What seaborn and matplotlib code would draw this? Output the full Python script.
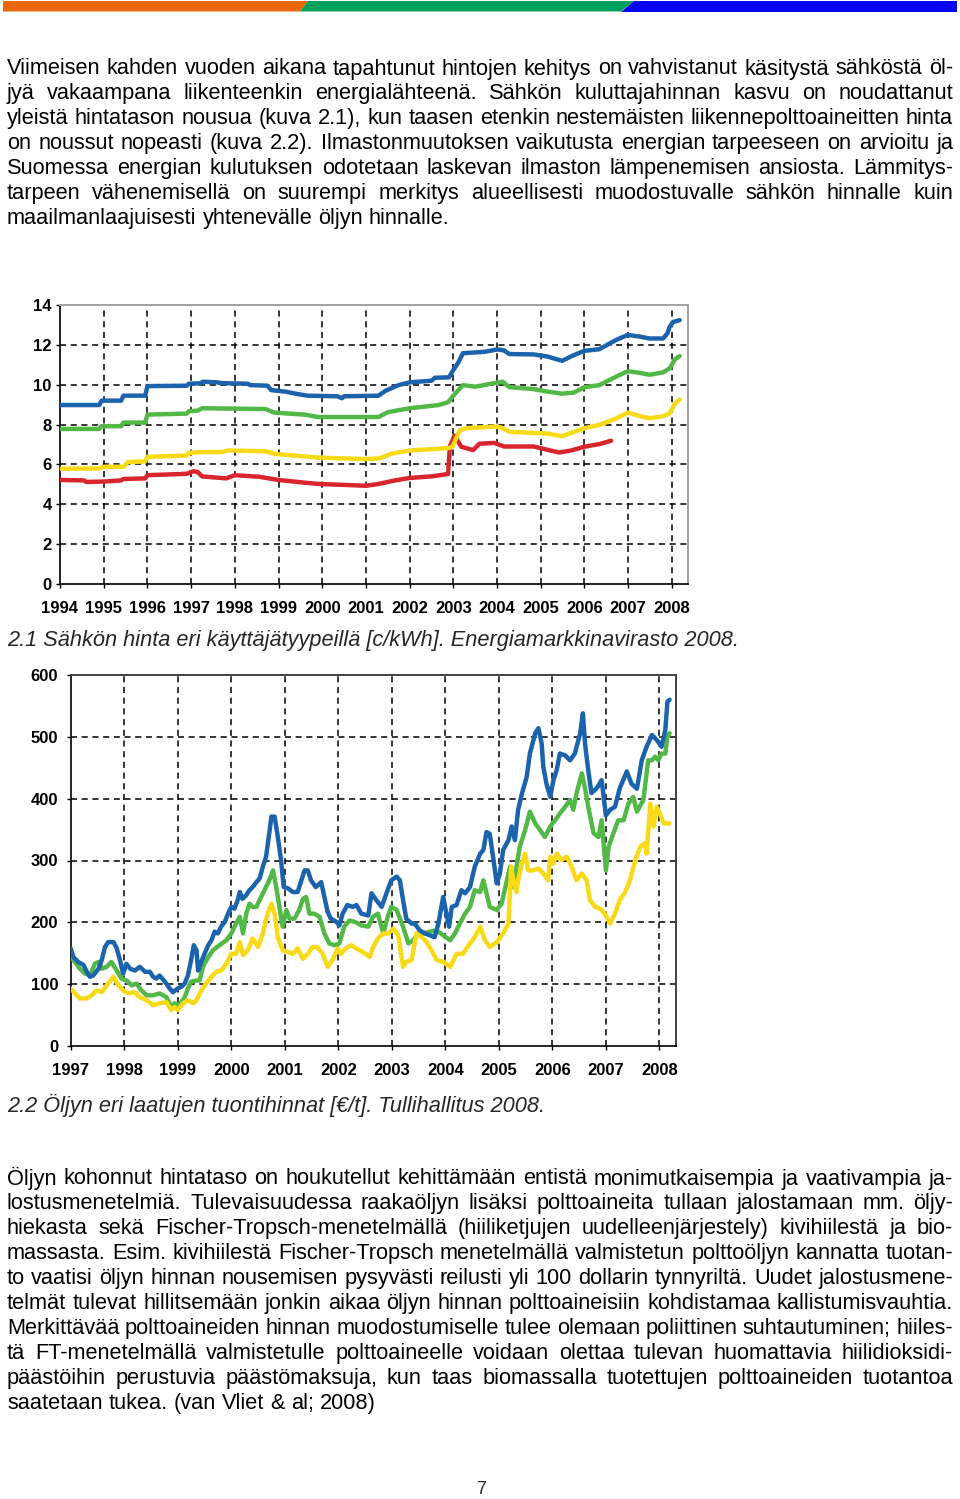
import matplotlib
matplotlib.use("Agg")
import matplotlib.pyplot as plt
import seaborn as sns
from matplotlib.patches import Polygon

sns.set_style("white")
plt.rcParams['font.family'] = ['Liberation Sans', 'DejaVu Sans']

W, H = 960, 1499

# ---------------- Text content ----------------
para1 = [
    "Viimeisen kahden vuoden aikana tapahtunut hintojen kehitys on vahvistanut käsitystä sähköstä öl-",
    "jyä vakaampana liikenteenkin energialähteenä. Sähkön kuluttajahinnan kasvu on noudattanut",
    "yleistä hintatason nousua (kuva 2.1), kun taasen etenkin nestemäisten liikennepolttoaineitten hinta",
    "on noussut nopeasti (kuva 2.2). Ilmastonmuutoksen vaikutusta energian tarpeeseen on arvioitu ja",
    "Suomessa energian kulutuksen odotetaan laskevan ilmaston lämpenemisen ansiosta. Lämmitys-",
    "tarpeen vähenemisellä on suurempi merkitys alueellisesti muodostuvalle sähkön hinnalle kuin",
    "maailmanlaajuisesti yhtenevälle öljyn hinnalle.",
]
caption1 = "2.1 Sähkön hinta eri käyttäjätyypeillä [c/kWh]. Energiamarkkinavirasto 2008."
caption2 = "2.2 Öljyn eri laatujen tuontihinnat [€/t]. Tullihallitus 2008."
para2 = [
    "Öljyn kohonnut hintataso on houkutellut kehittämään entistä monimutkaisempia ja vaativampia ja-",
    "lostusmenetelmiä. Tulevaisuudessa raakaöljyn lisäksi polttoaineita tullaan jalostamaan mm. öljy-",
    "hiekasta sekä Fischer-Tropsch-menetelmällä (hiiliketjujen uudelleenjärjestely) kivihiilestä ja bio-",
    "massasta. Esim. kivihiilestä Fischer-Tropsch menetelmällä valmistetun polttoöljyn kannatta tuotan-",
    "to vaatisi öljyn hinnan nousemisen pysyvästi reilusti yli 100 dollarin tynnyriltä. Uudet jalostusmene-",
    "telmät tulevat hillitsemään jonkin aikaa öljyn hinnan polttoaineisiin kohdistamaa kallistumisvauhtia.",
    "Merkittävää polttoaineiden hinnan muodostumiselle tulee olemaan poliittinen suhtautuminen; hiiles-",
    "tä FT-menetelmällä valmistetulle polttoaineelle voidaan olettaa tulevan huomattavia hiilidioksidi-",
    "päästöihin perustuvia päästömaksuja, kun taas biomassalla tuotettujen polttoaineiden tuotantoa",
    "saatetaan tukea. (van Vliet & al; 2008)",
]
page_number = "7"

# ---------------- Chart 2.1 data (c/kWh) ----------------
el_years = list(range(1994, 2009))
el_yticks = [0, 2, 4, 6, 8, 10, 12, 14]

el_blue_x = [1994.0, 1994.9, 1994.95, 1995.4, 1995.45, 1995.95, 1996.0, 1996.9, 1996.95, 1997.2, 1997.27,
             1997.6, 1997.7, 1998.3, 1998.35, 1998.75, 1998.83, 1999.17, 1999.39, 1999.66, 2000.35, 2000.45,
             2000.5, 2001.29, 2001.45, 2001.75, 2002.0, 2002.5, 2002.58, 2002.9, 2003.0, 2003.11, 2003.22,
             2003.71, 2004.01, 2004.16, 2004.28, 2004.84, 2005.14, 2005.49, 2005.72, 2006.0, 2006.34, 2006.72,
             2006.99, 2007.25, 2007.49, 2007.8, 2007.9, 2007.95, 2008.03, 2008.18]
el_blue = [8.98, 8.98, 9.2, 9.2, 9.45, 9.45, 9.93, 9.95, 10.05, 10.07, 10.15,
           10.12, 10.08, 10.05, 9.98, 9.95, 9.73, 9.65, 9.55, 9.45, 9.42, 9.32,
           9.42, 9.45, 9.7, 9.98, 10.12, 10.2, 10.35, 10.37, 10.74, 11.1, 11.58,
           11.65, 11.77, 11.72, 11.54, 11.52, 11.42, 11.2, 11.45, 11.7, 11.78, 12.24,
           12.5, 12.42, 12.32, 12.32, 12.58, 12.9, 13.15, 13.24]

el_green_x = [1994.0, 1994.9, 1994.95, 1995.4, 1995.45, 1995.95, 1996.0, 1996.9, 1996.95, 1997.15, 1997.25,
              1998.7, 1998.9, 1999.6, 1999.9, 2001.29, 2001.5, 2002.0, 2002.66, 2002.88, 2003.0, 2003.22,
              2003.5, 2003.94, 2004.13, 2004.28, 2004.84, 2005.14, 2005.49, 2005.75, 2006.0, 2006.34, 2006.72,
              2006.99, 2007.25, 2007.49, 2007.8, 2007.95, 2008.07, 2008.18]
el_green = [7.78, 7.78, 7.92, 7.92, 8.1, 8.1, 8.5, 8.55, 8.67, 8.7, 8.82,
            8.78, 8.6, 8.5, 8.38, 8.38, 8.62, 8.82, 8.98, 9.12, 9.45, 9.98,
            9.9, 10.08, 10.15, 9.88, 9.78, 9.66, 9.55, 9.6, 9.87, 9.98, 10.4,
            10.68, 10.6, 10.5, 10.62, 10.82, 11.27, 11.44]

el_yellow_x = [1994.0, 1994.9, 1995.0, 1995.45, 1995.55, 1995.95, 1996.0, 1996.9, 1996.95, 1997.25, 1997.7,
               1997.85, 1998.7, 1998.94, 1999.62, 1999.92, 2000.98, 2001.3, 2001.6, 2002.0, 2002.9, 2002.98,
               2003.15, 2003.3, 2003.94, 2004.1, 2004.28, 2004.84, 2005.14, 2005.49, 2006.0, 2006.34, 2006.72,
               2006.99, 2007.25, 2007.49, 2007.8, 2007.95, 2008.07, 2008.18]
el_yellow = [5.78, 5.8, 5.88, 5.88, 6.12, 6.15, 6.38, 6.45, 6.58, 6.62, 6.62,
             6.7, 6.66, 6.52, 6.4, 6.34, 6.27, 6.3, 6.55, 6.7, 6.82, 6.9,
             7.72, 7.82, 7.9, 7.85, 7.64, 7.58, 7.55, 7.42, 7.82, 7.98, 8.3,
             8.6, 8.43, 8.32, 8.42, 8.56, 9.05, 9.26]

el_red_x = [1994.0, 1994.55, 1994.6, 1995.0, 1995.4, 1995.45, 1995.95, 1996.0, 1996.9, 1997.05, 1997.15,
            1997.25, 1997.8, 1998.0, 1998.56, 1999.0, 1999.62, 1999.92, 2000.53, 2001.0, 2001.29, 2001.67,
            2002.0, 2002.5, 2002.88, 2002.92, 2003.03, 2003.18, 2003.45, 2003.6, 2003.94, 2004.16, 2004.84,
            2005.14, 2005.42, 2005.7, 2006.0, 2006.34, 2006.61]
el_red = [5.22, 5.2, 5.12, 5.14, 5.2, 5.27, 5.3, 5.46, 5.53, 5.66, 5.62,
          5.4, 5.3, 5.46, 5.38, 5.22, 5.08, 5.02, 4.97, 4.93, 5.02, 5.2,
          5.32, 5.4, 5.52, 6.89, 7.45, 6.89, 6.72, 7.04, 7.08, 6.9, 6.9,
          6.74, 6.6, 6.7, 6.89, 7.02, 7.19]

# ---------------- Chart 2.2 data (EUR/t) ----------------
oil_years = list(range(1997, 2009))
oil_yticks = [0, 100, 200, 300, 400, 500, 600]

oil_blue_x = [1997.00, 1997.05, 1997.14, 1997.24, 1997.30, 1997.36, 1997.42, 1997.52, 1997.58, 1997.64, 1997.70,
              1997.80, 1997.86, 1997.92, 1997.98, 1998.04, 1998.11, 1998.20, 1998.29, 1998.39, 1998.48, 1998.54,
              1998.60, 1998.66, 1998.76, 1998.85, 1998.91, 1999.00, 1999.07, 1999.13, 1999.19, 1999.25, 1999.30,
              1999.35, 1999.38, 1999.44, 1999.50, 1999.57, 1999.63, 1999.69, 1999.75, 1999.81, 1999.88, 1999.94,
              2000.00, 2000.06, 2000.12, 2000.16, 2000.21, 2000.28, 2000.34, 2000.40, 2000.47, 2000.53, 2000.59,
              2000.65, 2000.71, 2000.75, 2000.81, 2000.87, 2000.93, 2000.98, 2001.06, 2001.15, 2001.24, 2001.30,
              2001.37, 2001.43, 2001.49, 2001.58, 2001.68, 2001.74, 2001.80, 2001.86, 2001.96, 2002.02, 2002.08,
              2002.17, 2002.27, 2002.34, 2002.43, 2002.56, 2002.62, 2002.71, 2002.81, 2002.90, 2002.99, 2003.09,
              2003.15, 2003.21, 2003.27, 2003.37, 2003.43, 2003.52, 2003.62, 2003.71, 2003.80, 2003.87, 2003.96,
              2004.02, 2004.07, 2004.12, 2004.21, 2004.30, 2004.37, 2004.46, 2004.55, 2004.65, 2004.71, 2004.77,
              2004.83, 2004.90, 2004.96, 2005.02, 2005.08, 2005.18, 2005.24, 2005.30, 2005.36, 2005.43, 2005.52,
              2005.58, 2005.68, 2005.74, 2005.80, 2005.83, 2005.89, 2005.96, 2006.02, 2006.08, 2006.14, 2006.24,
              2006.33, 2006.42, 2006.52, 2006.57, 2006.61, 2006.67, 2006.73, 2006.83, 2006.92, 2007.00, 2007.08,
              2007.17, 2007.26, 2007.39, 2007.48, 2007.58, 2007.67, 2007.76, 2007.86, 2007.95, 2008.04, 2008.11,
              2008.15, 2008.19]
oil_blue = [158, 144, 136, 131, 120, 112, 114, 125, 139, 160, 168,
            168, 158, 139, 117, 133, 125, 122, 128, 120, 120, 112,
            109, 114, 104, 93, 87, 93, 96, 101, 114, 139, 163,
            155, 122, 136, 149, 163, 171, 185, 182, 193, 201, 214,
            225, 222, 236, 249, 238, 244, 252, 257, 265, 271, 290,
            306, 344, 371, 371, 338, 301, 257, 255, 249, 249, 265,
            284, 284, 268, 257, 265, 241, 217, 206, 201, 195, 214,
            228, 225, 228, 214, 211, 247, 236, 225, 247, 268, 274,
            268, 236, 206, 198, 198, 187, 182, 179, 176, 198, 241,
            214, 193, 225, 228, 252, 247, 257, 290, 311, 317, 346,
            343, 301, 263, 279, 317, 333, 355, 333, 382, 408, 435,
            473, 506, 514, 489, 452, 424, 403, 430, 446, 473, 470,
            462, 473, 506, 538, 489, 446, 409, 417, 430, 373, 382,
            387, 417, 444, 424, 416, 462, 484, 503, 495, 484, 511,
            557, 560]

oil_green_x = [1997.00, 1997.08, 1997.17, 1997.27, 1997.36, 1997.45, 1997.52, 1997.58, 1997.67, 1997.76, 1997.86,
               1997.95, 1998.04, 1998.14, 1998.23, 1998.32, 1998.42, 1998.54, 1998.66, 1998.79, 1998.88, 1998.94,
               1999.00, 1999.07, 1999.13, 1999.19, 1999.25, 1999.35, 1999.41, 1999.47, 1999.57, 1999.66, 1999.78,
               1999.91, 2000.00, 2000.09, 2000.16, 2000.22, 2000.28, 2000.34, 2000.40, 2000.47, 2000.53, 2000.62,
               2000.71, 2000.78, 2000.84, 2000.90, 2000.96, 2001.03, 2001.09, 2001.18, 2001.27, 2001.34, 2001.40,
               2001.46, 2001.55, 2001.65, 2001.74, 2001.83, 2001.93, 2002.02, 2002.11, 2002.21, 2002.33, 2002.43,
               2002.56, 2002.65, 2002.74, 2002.84, 2002.93, 2002.99, 2003.09, 2003.21, 2003.31, 2003.40, 2003.49,
               2003.59, 2003.71, 2003.84, 2003.96, 2004.09, 2004.18, 2004.27, 2004.37, 2004.46, 2004.55, 2004.65,
               2004.71, 2004.77, 2004.83, 2004.96, 2005.05, 2005.15, 2005.21, 2005.27, 2005.33, 2005.39, 2005.49,
               2005.58, 2005.68, 2005.77, 2005.86, 2005.96, 2006.05, 2006.14, 2006.24, 2006.33, 2006.39, 2006.45,
               2006.55, 2006.61, 2006.67, 2006.77, 2006.86, 2006.92, 2007.00, 2007.05, 2007.14, 2007.23, 2007.33,
               2007.42, 2007.51, 2007.58, 2007.70, 2007.79, 2007.86, 2007.92, 2007.98, 2008.04, 2008.11, 2008.15,
               2008.19]
oil_green = [144, 136, 125, 117, 114, 133, 136, 125, 128, 136, 122,
             109, 106, 98, 101, 90, 82, 82, 85, 79, 63, 69,
             66, 71, 79, 93, 104, 106, 106, 128, 144, 155, 163,
             171, 182, 198, 209, 182, 214, 230, 225, 225, 236, 252,
             268, 284, 257, 225, 193, 220, 206, 206, 220, 238, 241,
             214, 214, 209, 182, 166, 163, 166, 193, 203, 200, 195,
             193, 209, 214, 182, 211, 225, 220, 193, 166, 171, 182,
             182, 185, 187, 179, 171, 182, 198, 214, 225, 252, 249,
             268, 247, 225, 220, 230, 268, 290, 257, 290, 322, 349,
             379, 360, 349, 338, 355, 365, 376, 387, 398, 382, 408,
             441, 417, 387, 344, 338, 365, 284, 322, 344, 365, 365,
             392, 403, 379, 398, 462, 462, 468, 462, 473, 473, 500,
             506]

oil_yellow_x = [1997.00, 1997.08, 1997.17, 1997.30, 1997.39, 1997.48, 1997.58, 1997.67, 1997.80, 1997.89, 1997.98,
                1998.07, 1998.20, 1998.29, 1998.42, 1998.54, 1998.66, 1998.79, 1998.88, 1998.94, 1999.00, 1999.10,
                1999.19, 1999.29, 1999.35, 1999.44, 1999.53, 1999.63, 1999.72, 1999.81, 1999.91, 2000.00, 2000.09,
                2000.16, 2000.22, 2000.31, 2000.40, 2000.50, 2000.59, 2000.68, 2000.75, 2000.81, 2000.87, 2000.96,
                2001.06, 2001.15, 2001.24, 2001.34, 2001.43, 2001.52, 2001.61, 2001.71, 2001.80, 2001.89, 2001.99,
                2002.05, 2002.14, 2002.24, 2002.33, 2002.46, 2002.59, 2002.65, 2002.74, 2002.84, 2002.93, 2003.03,
                2003.12, 2003.21, 2003.27, 2003.37, 2003.46, 2003.56, 2003.65, 2003.74, 2003.84, 2003.96, 2004.09,
                2004.21, 2004.33, 2004.46, 2004.55, 2004.65, 2004.74, 2004.83, 2004.96, 2005.08, 2005.18, 2005.23,
                2005.27, 2005.33, 2005.36, 2005.43, 2005.49, 2005.55, 2005.64, 2005.74, 2005.83, 2005.92, 2005.96,
                2006.02, 2006.08, 2006.17, 2006.27, 2006.36, 2006.45, 2006.55, 2006.64, 2006.70, 2006.80, 2006.89,
                2006.98, 2007.08, 2007.17, 2007.26, 2007.36, 2007.45, 2007.55, 2007.64, 2007.73, 2007.76, 2007.83,
                2007.89, 2007.95, 2008.01, 2008.08, 2008.19]
oil_yellow = [93, 85, 77, 77, 82, 90, 87, 98, 112, 98, 90,
              85, 87, 79, 74, 66, 69, 71, 58, 63, 58, 69,
              74, 69, 74, 90, 101, 112, 120, 122, 133, 149, 149,
              168, 147, 155, 174, 160, 182, 214, 230, 214, 176, 155,
              152, 149, 158, 141, 149, 160, 160, 149, 128, 139, 158,
              149, 158, 163, 158, 152, 144, 160, 174, 182, 182, 190,
              179, 128, 136, 139, 182, 176, 168, 155, 139, 136, 128,
              149, 149, 166, 176, 193, 171, 160, 168, 182, 198, 290,
              268, 249, 268, 295, 311, 284, 284, 287, 279, 268, 306,
              295, 311, 301, 306, 290, 268, 279, 268, 236, 225, 222,
              214, 198, 214, 236, 249, 268, 301, 322, 328, 311, 392,
              355, 387, 376, 360, 360]

# ---------------- Styles ----------------
C_BLUE = "#1C63AD"
C_GREEN = "#52B947"
C_YELLOW = "#F8DA17"
C_RED = "#D8262C"
BODY = 15.65
TICK = 12

fig = plt.figure(figsize=(W / 100, H / 100), dpi=100)
renderer = fig.canvas.get_renderer()


def fx(x):
    return x / W


def fy(y):
    return 1 - y / H


# top colour bar
bar_specs = [
    ([(3, 1), (308, 1), (300, 11.5), (3, 11.5)], "#EA670B"),
    ([(308, 1), (634, 1), (621, 11.5), (300, 11.5)], "#00A05E"),
    ([(634, 1), (957, 1), (957, 11.5), (621, 11.5)], "#0505F2"),
]
for pts, col in bar_specs:
    fig.patches.append(Polygon([(fx(a), fy(b)) for a, b in pts], closed=True,
                               transform=fig.transFigure, facecolor=col, edgecolor="none"))


def measure(s, **kw):
    t = fig.text(0, 0, s, fontsize=BODY, **kw)
    w = t.get_window_extent(renderer).width
    t.remove()
    return w


space_w = measure("a a") - measure("aa")


def paragraph(lines, y0, step, left=7, right=953):
    for i, line in enumerate(lines):
        y = y0 + i * step
        words = line.split(" ")
        objs = [fig.text(0, fy(y), w, fontsize=BODY, va="baseline", ha="left", color="black")
                for w in words]
        widths = [o.get_window_extent(renderer).width for o in objs]
        if i == len(lines) - 1 or len(words) == 1:
            gap = space_w
        else:
            gap = (right - left - sum(widths)) / (len(words) - 1)
        x = left
        for o, w in zip(objs, widths):
            o.set_x(fx(x))
            x += w + gap


paragraph(para1, 74.5, 24.9)
paragraph(para2, 1184.5, 24.9)
fig.text(fx(7), fy(645.5), caption1, fontsize=BODY, style="italic", va="baseline", ha="left")
fig.text(fx(7), fy(1112), caption2, fontsize=BODY, style="italic", va="baseline", ha="left")
fig.text(fx(481), fy(1494), page_number, fontsize=13, va="baseline", ha="center")


def style_axes(ax, xticks, yticks, xlim, ylim, frame_col, ypad):
    ax.set_xlim(*xlim)
    ax.set_ylim(*ylim)
    ax.set_xticks(xticks)
    ax.set_yticks(yticks)
    ax.set_xticklabels([str(v) for v in xticks], fontweight="bold", fontsize=TICK)
    ax.set_yticklabels([str(v) for v in yticks], fontweight="bold", fontsize=TICK)
    ax.tick_params(axis="x", bottom=True, direction="out", length=3, width=1, pad=9, colors="black")
    ax.tick_params(axis="y", left=True, direction="out", length=3, width=1, pad=ypad, colors="black")
    ax.set_xlabel("")
    ax.set_ylabel("")
    ax.grid(False)
    for v in xticks[1:]:
        ax.axvline(v, color="black", lw=1.1, ls=(0, (4, 3)), zorder=1)
    for v in yticks[1:-1]:
        ax.axhline(v, color="black", lw=1.1, ls=(0, (4, 3)), zorder=1)
    for side in ("left", "bottom"):
        ax.spines[side].set_color("black")
        ax.spines[side].set_linewidth(1.2)
    for side in ("top", "right"):
        ax.spines[side].set_color(frame_col)
        ax.spines[side].set_linewidth(1.4)
    ax.set_facecolor("white")


# ---------------- Chart 2.1 ----------------
ax1 = fig.add_axes([fx(60), fy(584), 628 / W, 279 / H])
for xs, ys, col in [(el_red_x, el_red, C_RED), (el_yellow_x, el_yellow, C_YELLOW),
                    (el_green_x, el_green, C_GREEN), (el_blue_x, el_blue, C_BLUE)]:
    sns.lineplot(x=xs, y=ys, ax=ax1, color=col, lw=3.2, estimator=None, sort=False, zorder=3)
style_axes(ax1, el_years, el_yticks, (1994, 2008.37), (0, 14), "#A0A0A0", 3)

# ---------------- Chart 2.2 ----------------
ax2 = fig.add_axes([fx(70.7), fy(1046), 605.3 / W, 371 / H])
for xs, ys, col in [(oil_green_x, oil_green, C_GREEN), (oil_blue_x, oil_blue, C_BLUE),
                    (oil_yellow_x, oil_yellow, C_YELLOW)]:
    sns.lineplot(x=xs, y=ys, ax=ax2, color=col, lw=3.2, estimator=None, sort=False, zorder=3)
style_axes(ax2, oil_years, oil_yticks, (1997, 2008.31), (0, 600), "#404040", 6)

fig.savefig("out.png", dpi=100, facecolor="white")
